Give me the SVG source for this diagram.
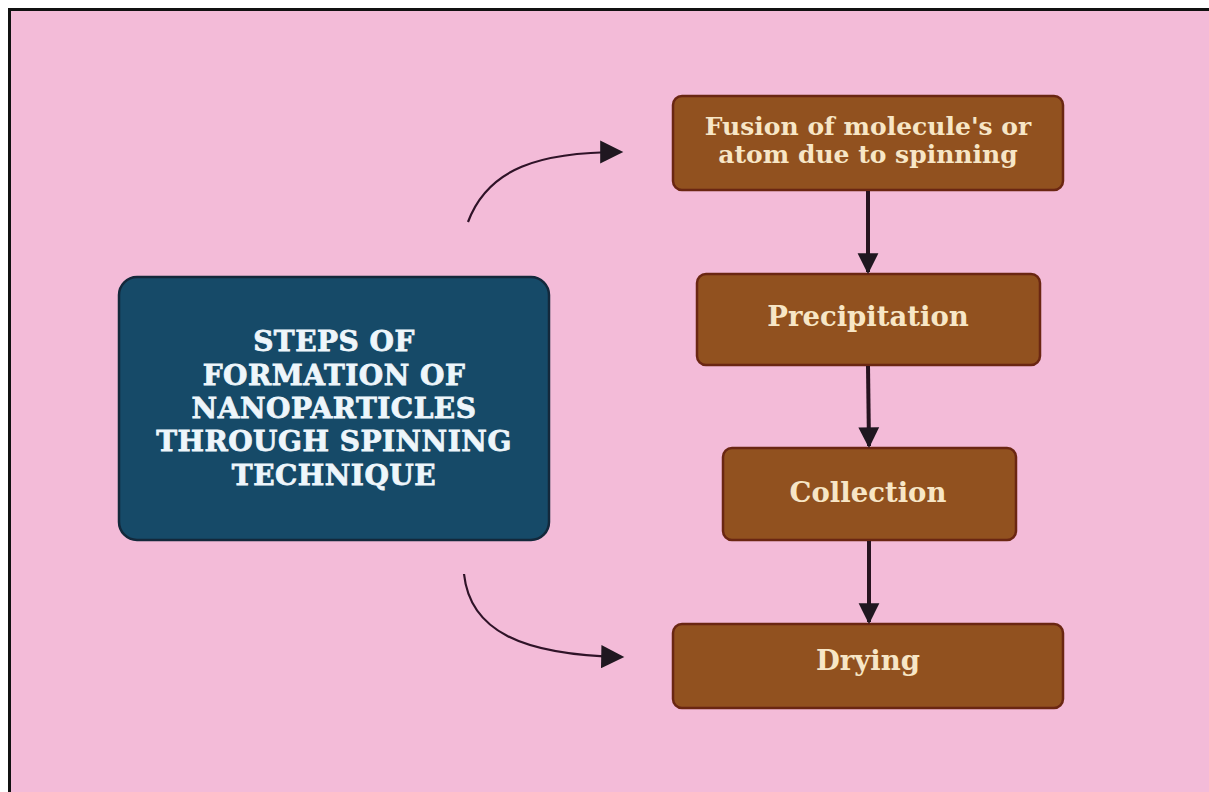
<svg xmlns="http://www.w3.org/2000/svg" width="1209" height="792" viewBox="0 0 1209 792">
<defs>
<style>
.bg{fill:#f3bbd8;stroke:#111;stroke-width:3}
.step{fill:#91511f;stroke:#6a2612;stroke-width:2.5}
.main{fill:#164a68;stroke:#13283b;stroke-width:2.5}
.st{font-family:"DejaVu Serif","Liberation Serif",serif;font-weight:bold;fill:#f7e6c6;text-anchor:middle}
.mt{font-family:"DejaVu Serif","Liberation Serif",serif;font-weight:bold;fill:#eef6fb;stroke:#eef6fb;stroke-width:0.8;text-anchor:middle;font-size:28px;letter-spacing:0.5px}
.conn{fill:none;stroke:#26131f;stroke-width:4}
.curve{fill:none;stroke:#2f1328;stroke-width:2.2}
</style>
<marker id="ah" viewBox="0 0 10 10" refX="9" refY="5" markerWidth="5.2" markerHeight="6.8" markerUnits="strokeWidth" orient="auto">
<path d="M0,0 L10,5 L0,10 z" fill="#1f1720"/>
</marker>
<marker id="ah2" viewBox="0 0 10 10" refX="9" refY="5" markerWidth="11" markerHeight="10.5" markerUnits="strokeWidth" orient="auto">
<path d="M0,0 L10,5 L0,10 z" fill="#1f1720"/>
</marker>
</defs>
<rect x="0" y="0" width="1209" height="792" fill="#ffffff"/>
<rect class="bg" x="9.5" y="9.5" width="1215" height="800"/>
<g id="main">
<rect class="main" x="119" y="277" width="430" height="263" rx="18"/>
<text class="mt" x="334" y="351">STEPS OF</text>
<text class="mt" x="334" y="385">FORMATION OF</text>
<text class="mt" x="334" y="418">NANOPARTICLES</text>
<text class="mt" x="334" y="451">THROUGH SPINNING</text>
<text class="mt" x="334" y="485">TECHNIQUE</text>
</g>
<g id="fusion">
<rect class="step" x="673" y="96" width="390" height="94" rx="9"/>
<text class="st" x="868" y="135" font-size="25">Fusion of molecule's or</text>
<text class="st" x="868" y="163" font-size="25">atom due to spinning</text>
</g>
<g id="precipitation">
<rect class="step" x="697" y="274" width="343" height="91" rx="9"/>
<text class="st" x="868" y="326" font-size="27.5">Precipitation</text>
</g>
<g id="collection">
<rect class="step" x="723" y="448" width="293" height="92" rx="9"/>
<text class="st" x="868" y="502" font-size="27.5">Collection</text>
</g>
<g id="drying">
<rect class="step" x="673" y="624" width="390" height="84" rx="9"/>
<text class="st" x="868" y="670" font-size="27.5">Drying</text>
</g>
<g id="connectors">
<path class="conn" d="M868,191 L868,272" marker-end="url(#ah)"/>
<path class="conn" d="M868,366 L869,446" marker-end="url(#ah)"/>
<path class="conn" d="M869,541 L869,622" marker-end="url(#ah)"/>
<path class="curve" d="M468,222 C488,168 540,152 621,152" marker-end="url(#ah2)"/>
<path class="curve" d="M464,574 C470,630 520,655 622,657" marker-end="url(#ah2)"/>
</g>
</svg>
